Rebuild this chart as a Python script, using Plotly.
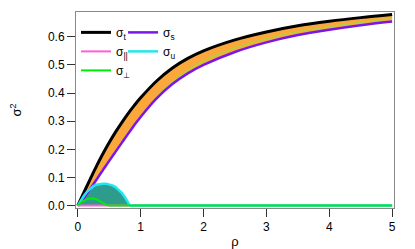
import plotly.graph_objects as go

# --- data ---
rho = [0, 0.1, 0.2, 0.3, 0.4, 0.5, 0.6, 0.7, 0.8, 0.9, 1.0,
       1.25, 1.5, 1.75, 2.0, 2.5, 3.0, 3.5, 4.0, 4.5, 5.0]
sigma_t = [0, 0.048, 0.095, 0.141, 0.184, 0.224, 0.261, 0.295, 0.327, 0.356, 0.383,
           0.442, 0.488, 0.523, 0.550, 0.589, 0.617, 0.639, 0.655, 0.668, 0.679]
sigma_s = [0, 0.028, 0.060, 0.093, 0.126, 0.159, 0.191, 0.223, 0.255, 0.286, 0.315,
           0.380, 0.431, 0.470, 0.500, 0.546, 0.580, 0.606, 0.625, 0.641, 0.654]

rho_mid = [1.0, 1.25, 1.5, 1.75, 2.0, 2.5, 3.0, 3.5, 4.0, 4.5, 5.0]
sigma_mid = [0.315, 0.384, 0.439, 0.481, 0.513, 0.560, 0.593, 0.618, 0.636, 0.651, 0.664]

rho_low = [0, 0.05, 0.1, 0.15, 0.2, 0.25, 0.3, 0.35, 0.4, 0.45, 0.5, 0.55, 0.6,
           0.65, 0.7, 0.75, 0.8, 0.83, 0.9, 1, 2, 3, 4, 5]
sigma_u = [0, 0.02, 0.036, 0.05, 0.061, 0.069, 0.074, 0.077, 0.078, 0.078, 0.076,
           0.072, 0.066, 0.057, 0.045, 0.03, 0.012, 0, 0, 0, 0, 0, 0, 0]
sigma_perp = [0, 0.011, 0.018, 0.023, 0.025, 0.025, 0.022, 0.017, 0.010, 0.003, 0,
              0, 0, 0, 0, 0, 0, 0, 0, 0, 0, 0, 0, 0]
sigma_par = [0] * len(rho_low)

x_ticks = [0, 1, 2, 3, 4, 5]
y_ticks = [0.0, 0.1, 0.2, 0.3, 0.4, 0.5, 0.6]

C_T = "black"
C_S = "#7a16ea"
C_PAR = "#ff5fd2"
C_U = "#22e6f0"
C_PERP = "#00ee00"
C_FILL = "#fba73c"
C_TEAL = "#2e9c8c"

fig = go.Figure()

# orange band between sigma_s and sigma_t
fig.add_trace(go.Scatter(x=rho, y=sigma_s, mode="lines", line=dict(width=0, shape="spline"),
                         showlegend=False, hoverinfo="skip"))
fig.add_trace(go.Scatter(x=rho, y=sigma_t, mode="lines", line=dict(width=0, shape="spline"),
                         fill="tonexty", fillcolor=C_FILL, showlegend=False, hoverinfo="skip"))
fig.add_trace(go.Scatter(x=rho_mid, y=sigma_mid, mode="lines",
                         line=dict(color="#b8cf3c", width=1.5, shape="spline"),
                         showlegend=False, hoverinfo="skip"))

# teal area under sigma_u
fig.add_trace(go.Scatter(x=rho_low, y=sigma_u, mode="lines", line=dict(width=0),
                         fill="tozeroy", fillcolor=C_TEAL, showlegend=False, hoverinfo="skip"))

# lines
fig.add_trace(go.Scatter(x=rho, y=sigma_s, mode="lines", name="σ<sub>s</sub>",
                         line=dict(color=C_S, width=2.5, shape="spline"), legend="legend2"))
fig.add_trace(go.Scatter(x=rho, y=sigma_t, mode="lines", name="σ<sub>t</sub>",
                         line=dict(color=C_T, width=3, shape="spline"), legend="legend",
                         legendrank=1))
fig.add_trace(go.Scatter(x=rho_low, y=sigma_par, mode="lines", name="σ<sub>||</sub>",
                         line=dict(color=C_PAR, width=2), legend="legend", legendrank=2))
fig.add_trace(go.Scatter(x=rho_low, y=sigma_u, mode="lines", name="σ<sub>u</sub>",
                         line=dict(color=C_U, width=2.5), legend="legend2"))
fig.add_trace(go.Scatter(x=rho_low, y=sigma_perp, mode="lines", name="σ<sub>⊥</sub>",
                         line=dict(color=C_PERP, width=2), legend="legend", legendrank=3))

font = dict(family="Liberation Sans, Arial, sans-serif", size=12, color="black")
leg = dict(bgcolor="rgba(0,0,0,0)", borderwidth=0, font=dict(family=font["family"], size=12),
           orientation="v", xanchor="left", yanchor="top", tracegroupgap=0,
           itemwidth=30, traceorder="normal")

# page body has an 8px default margin, so the figure is drawn 8px smaller / shifted
fig.update_layout(
    width=407, height=241,
    margin=dict(l=68, r=21, t=4, b=41, autoexpand=False),
    paper_bgcolor="white", plot_bgcolor="white",
    font=font,
    legend=dict(leg, x=0.0, y=0.97),
    legend2=dict(leg, x=0.148, y=0.97),
    xaxis=dict(range=[-0.028, 5.03], tickvals=x_ticks, ticks="outside", ticklen=8,
               tickcolor="#333", showline=True, linecolor="#888", linewidth=1, mirror=True,
               showgrid=False, zeroline=False, automargin=False,
               title=dict(text="ρ", standoff=13, font=dict(size=13))),
    yaxis=dict(range=[-0.0085, 0.688], tickvals=y_ticks, tickformat=".1f", ticks="outside",
               ticklen=8, tickcolor="#333", showline=True, linecolor="#888", linewidth=1,
               mirror=True, showgrid=False, zeroline=False, automargin=False,
               title=dict(text="σ<sup>2</sup>", standoff=29, font=dict(size=13))),
)

fig.write_html("out.html")
